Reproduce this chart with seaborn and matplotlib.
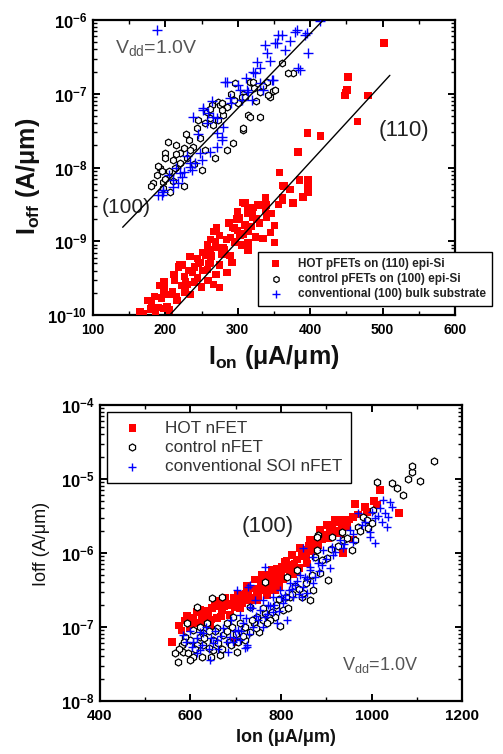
import numpy as np
import pandas as pd
import matplotlib
matplotlib.use("Agg")
import matplotlib.pyplot as plt
from matplotlib.ticker import FuncFormatter, MultipleLocator, LogLocator, NullFormatter
import seaborn as sns

# ---------------- pFET data (Ion in uA/um, log10 of Ioff in A/um) ----------------
hot_p_ion = [502, 452, 449, 448, 451, 480, 465, 396, 414, 383, 358, 397, 397, 397, 385, 364, 338, 362, 362, 376,
             310, 327, 340, 314, 320, 299, 307, 331, 362, 320, 340, 310, 351, 271, 266, 275, 300, 314, 324, 335,
             351, 314, 262, 269, 296, 244, 255, 223, 248, 262, 275, 292, 285, 237, 244, 259, 266, 275, 199, 210,
             227, 195, 216, 181, 202, 206, 165, 186, 197, 197, 220, 234, 262, 293, 313, 321, 314, 282, 289, 303,
             230, 252, 213, 300, 330, 345, 290, 258, 280, 240, 270, 228, 250, 215, 235, 190, 175, 260, 305, 372, 390,
             185, 192, 205, 212, 222, 232, 240, 246, 252, 258, 264, 270, 278, 284, 288, 295, 302, 308, 318, 326,
             338, 346, 356, 218, 226, 198, 180, 170]
hot_p_log_ioff = [-6.31, -6.77, -6.98, -7.02, -6.95, -7.02, -7.38, -7.53, -7.57, -7.79, -8.07, -8.17, -8.25, -8.33,
                  -8.17, -8.25, -8.41, -8.41, -8.24, -8.48, -8.48, -8.51, -8.51, -8.62, -8.67, -8.70, -8.47, -8.51,
                  -8.44, -8.64, -8.67, -8.78, -8.79, -8.82, -8.87, -8.92, -8.85, -8.87, -8.94, -8.96, -9.02, -9.12,
                  -8.98, -9.01, -9.01, -9.23, -9.19, -9.32, -9.29, -9.28, -9.32, -9.29, -9.42, -9.42, -9.50, -9.53,
                  -9.59, -9.63, -9.66, -9.69, -9.69, -9.77, -9.80, -9.85, -9.89, -9.93, -9.96, -9.96, -9.91, -9.66,
                  -9.32, -9.21, -9.12, -8.81, -8.55, -8.54, -9.02, -9.12, -9.19, -8.92, -9.59, -9.40, -9.53, -8.60,
                  -8.75, -8.88, -8.95, -9.05, -9.08, -9.35, -9.45, -9.55, -9.62, -9.75, -9.72, -9.90, -9.80, -9.30,
                  -9.05, -8.30, -8.40,
                  -9.75, -9.60, -9.72, -9.45, -9.60, -9.40, -9.55, -9.30, -9.15, -9.38, -9.20, -9.08, -9.18, -8.98,
                  -8.75, -8.82, -8.68, -8.90, -8.80, -8.70, -8.58, -8.62, -8.50, -9.35, -9.48, -9.55, -9.92, -9.98]

ctrl_p_ion = [361, 376, 369, 296, 317, 340, 331, 349, 344, 307, 273, 275, 285, 300, 280, 314, 331, 262, 266, 244,
              307, 293, 285, 248, 225, 220, 199, 199, 210, 220, 251, 193, 188, 206, 197, 206, 183, 197, 238, 230,
              269, 273, 278, 306, 342, 317, 307, 321, 234, 213, 255, 215, 203, 228, 258, 290, 325, 352, 265, 240,
              225, 195, 190, 205, 215, 232, 245, 255, 262, 278, 295, 310, 322, 335, 200, 210, 180]
ctrl_p_log_ioff = [-6.58, -6.72, -6.72, -6.85, -6.84, -6.84, -6.98, -6.96, -7.04, -7.00, -7.11, -7.15, -7.18, -7.13,
                   -7.29, -7.29, -7.32, -7.33, -7.42, -7.46, -7.49, -7.67, -7.76, -7.60, -7.74, -7.80, -7.80, -7.87,
                   -7.90, -7.94, -8.03, -8.01, -8.10, -8.13, -8.20, -8.33, -8.21, -8.28, -7.72, -7.87, -7.87, -7.36,
                   -7.13, -7.04, -7.02, -7.32, -7.46, -6.84, -7.76, -8.01, -7.76, -7.70, -7.65, -7.55, -7.25, -7.00,
                   -7.10, -6.95, -7.15, -7.95, -8.25, -8.05, -7.98, -8.05, -7.82, -7.62, -7.35, -7.40, -7.20, -7.22,
                   -7.08, -7.05, -6.92, -6.90, -8.15, -8.18, -8.25]

bulk_p_ion = [379, 393, 361, 354, 338, 397, 340, 327, 383, 324, 349, 282, 331, 335, 303, 314, 289, 306, 320, 252,
              238, 259, 271, 280, 278, 271, 262, 251, 241, 234, 223, 217, 210, 197, 195, 225, 237, 321, 285, 252,
              266, 271, 278, 248, 234, 220, 210, 197, 190, 188, 414, 382, 396, 356, 351, 386, 347, 313,
              230, 245, 258, 265, 290, 300, 312, 330, 345, 365, 372, 205, 215]
bulk_p_log_ioff = [-6.16, -6.20, -6.20, -6.31, -6.34, -6.45, -6.45, -6.57, -6.65, -6.72, -6.81, -6.84, -6.85, -6.95,
                   -6.95, -6.98, -7.06, -7.08, -7.08, -7.19, -7.32, -7.26, -7.33, -7.45, -7.59, -7.72, -7.79, -7.90,
                   -7.94, -7.99, -8.13, -8.21, -8.26, -8.33, -8.37, -8.06, -8.03, -6.71, -6.84, -7.22, -7.32, -7.53,
                   -7.63, -7.80, -7.94, -8.07, -8.17, -8.31, -8.37, -6.14, -6.01, -6.14, -6.18, -6.20, -6.31, -6.68,
                   -6.81, -6.95, -7.85, -7.55, -7.40, -7.10, -7.12, -6.88, -6.78, -6.65, -6.55, -6.40, -6.28, -8.10,
                   -8.00]

# trend lines for the two orientations
fit_100_ion = [141, 418]
fit_100_ioff = [1.55e-9, 1.0e-6]
fit_110_ion = [206, 510]
fit_110_ioff = [1.0e-10, 1.78e-7]

p_labels = ["HOT pFETs on (110) epi-Si", "control pFETs on (100) epi-Si", "conventional (100) bulk substrate"]

# ---------------- nFET data ----------------
hot_n_ion = [559, 610, 625, 648, 670, 681, 698, 716, 731, 747, 765, 776, 793, 802, 835, 857, 875, 636, 659, 687,
             714, 747, 769, 787, 820, 835, 857, 694, 1019, 1061, 1012, 986, 964, 959, 937, 924, 946, 908, 893, 880,
             871, 853, 930, 937, 959, 621, 654, 676, 705, 727, 742, 758, 780, 809, 824, 842, 864, 886, 902, 599,
             588, 643, 753, 798, 820, 919, 605, 640, 662, 690, 700, 722, 738, 760, 770, 785, 800, 815, 830, 848,
             868, 882, 898, 913, 580, 625, 668, 710, 750, 795, 840,
             615, 632, 645, 660, 675, 695, 708, 725, 735, 755, 768, 778, 790, 805, 812, 828, 845, 855, 862, 878,
             890, 905, 920, 935, 950, 970, 990, 1005, 575, 592]
hot_n_log_ioff = [-7.20, -6.95, -6.84, -6.74, -6.77, -6.68, -6.73, -6.61, -6.64, -6.53, -6.43, -6.34, -6.27, -6.19,
                  -6.09, -5.96, -5.85, -6.95, -6.88, -6.84, -6.68, -6.64, -6.57, -6.50, -6.26, -6.26, -6.14, -7.20,
                  -5.15, -5.46, -5.35, -5.38, -5.34, -5.51, -5.55, -5.59, -5.65, -5.69, -5.78, -5.85, -5.92, -6.00,
                  -5.73, -6.00, -5.82, -6.77, -6.70, -6.61, -6.57, -6.50, -6.36, -6.30, -6.23, -6.12, -6.03, -5.93,
                  -5.82, -5.69, -5.62, -7.01, -6.91, -6.98, -6.50, -6.36, -6.16, -5.55, -6.88, -6.85, -6.72, -6.70,
                  -6.62, -6.55, -6.48, -6.40, -6.47, -6.38, -6.30, -6.22, -6.15, -6.05, -5.97, -5.90, -5.75, -5.62,
                  -7.05, -6.92, -6.86, -6.75, -6.58, -6.45, -6.20,
                  -6.80, -6.78, -6.90, -6.65, -6.72, -6.60, -6.68, -6.45, -6.60, -6.42, -6.30, -6.40, -6.22, -6.35,
                  -6.10, -6.28, -6.00, -6.05, -5.90, -5.95, -5.82, -5.80, -5.70, -5.65, -5.55, -5.48, -5.45, -5.30,
                  -6.98, -6.85]

ctrl_n_ion = [1012, 1045, 1056, 1070, 1081, 1090, 1090, 1107, 1138, 981, 992, 1003, 970, 964, 935, 913, 882, 902,
              957, 886, 904, 871, 846, 857, 875, 937, 572, 592, 614, 648, 670, 703, 583, 606, 581, 599, 628, 650,
              672, 628, 659, 692, 709, 731, 747, 765, 787, 804, 731, 820, 849, 864, 813, 835, 765, 880, 880, 694,
              681, 606, 588, 621, 650, 665, 636, 720, 751, 776, 798, 575, 595, 615, 640, 660, 685, 700, 720, 740,
              760, 790, 810, 830, 760, 600, 625, 655, 690,
              585, 610, 630, 645, 670, 680, 705, 715, 735, 745, 770, 780, 795, 815, 825, 840, 855, 868, 890, 910,
              925, 945, 975, 990, 1000, 620, 640, 565]
ctrl_n_log_ioff = [-5.04, -5.05, -5.12, -5.22, -5.00, -4.91, -4.82, -5.03, -4.76, -5.51, -5.66, -5.42, -5.65, -5.82,
                   -5.72, -5.78, -5.76, -6.07, -5.96, -6.27, -6.36, -6.50, -6.59, -6.36, -6.05, -5.82, -7.47, -6.95,
                   -6.73, -6.61, -6.59, -7.34, -7.34, -7.41, -7.24, -7.18, -7.24, -7.18, -7.11, -7.08, -7.01, -7.00,
                   -6.95, -7.07, -6.86, -6.81, -6.86, -6.77, -6.73, -6.59, -6.54, -6.64, -6.32, -6.23, -6.39, -5.78,
                   -5.96, -6.86, -6.95, -7.04, -7.14, -7.14, -7.31, -7.38, -6.95, -7.18, -7.07, -6.91, -6.98, -7.30,
                   -7.35, -7.25, -7.28, -7.22, -7.20, -7.10, -7.00, -6.95, -6.90, -6.70, -6.60, -6.45, -6.75, -7.45,
                   -7.40, -7.05, -7.25,
                   -7.20, -7.30, -7.15, -7.40, -7.30, -7.05, -7.20, -7.12, -6.90, -7.02, -6.95, -6.80, -6.62, -6.75,
                   -6.55, -6.48, -6.40, -6.30, -6.10, -5.95, -5.90, -5.80, -5.70, -5.55, -5.60, -7.00, -7.05, -7.35]

soi_n_ion = [643, 603, 683, 720, 703, 727, 765, 849, 871, 628, 672, 709, 731, 760, 782, 798, 820, 842, 864, 659,
             687, 705, 738, 765, 782, 804, 827, 791, 813, 606, 621, 583, 694, 1025, 1041, 1045, 1019, 1030, 1036,
             1008, 1023, 1034, 997, 997, 1008, 979, 970, 952, 959, 930, 913, 937, 893, 915, 882, 908, 864, 853,
             875, 849, 857, 846, 891, 725, 709, 731, 621, 725, 742, 753, 771, 809, 831, 590, 615, 650, 668, 698,
             715, 745, 775, 800, 818, 835, 655, 690, 640, 730, 760,
             600, 625, 635, 660, 680, 700, 712, 722, 735, 750, 768, 785, 795, 808, 825, 840, 858, 870, 885, 900,
             920, 940, 960, 985, 1000, 1015, 645, 615]
soi_n_log_ioff = [-7.45, -7.27, -7.34, -7.28, -6.50, -6.46, -6.19, -5.93, -6.05, -7.08, -7.01, -6.84, -6.73, -6.64,
                  -6.59, -6.50, -6.41, -6.30, -6.23, -7.18, -7.14, -7.04, -7.00, -6.86, -6.80, -6.68, -6.59, -6.95,
                  -6.91, -7.20, -7.31, -7.11, -7.20, -5.28, -5.31, -5.38, -5.39, -5.46, -5.51, -5.53, -5.58, -5.65,
                  -5.72, -5.78, -5.86, -5.62, -5.46, -5.69, -5.85, -5.82, -5.92, -5.93, -5.96, -6.03, -6.14, -6.20,
                  -6.19, -6.32, -6.32, -6.46, -6.54, -6.59, -6.16, -7.24, -7.18, -6.43, -7.07, -7.27, -6.64, -6.77,
                  -6.70, -6.57, -6.43, -7.20, -7.15, -7.22, -7.12, -7.05, -6.95, -6.85, -6.72, -6.60, -6.50, -6.38,
                  -7.05, -6.90, -7.30, -7.10, -7.00,
                  -7.05, -7.25, -7.00, -7.30, -7.20, -7.15, -7.05, -6.88, -6.75, -6.90, -6.82, -6.70, -6.78, -6.62,
                  -6.48, -6.55, -6.35, -6.40, -6.25, -6.08, -5.98, -5.88, -5.75, -5.58, -5.45, -5.50, -7.15, -7.35]

n_labels = ["HOT nFET", "control nFET", "conventional SOI nFET"]


def frame(ion, log_ioff):
    return pd.DataFrame({"Ion": ion, "Ioff": np.power(10.0, np.asarray(log_ioff))})


sns.set_theme(style="ticks")
plt.rcParams.update({
    "font.family": ["Liberation Sans", "DejaVu Sans"],
    "mathtext.fontset": "custom",
    "mathtext.rm": "Liberation Sans",
    "mathtext.it": "Liberation Sans:italic",
    "mathtext.bf": "Liberation Sans:bold",
    "axes.edgecolor": "black",
    "axes.linewidth": 1.6,
    "text.color": "#222222",
})

fig = plt.figure(figsize=(5.03, 7.54), dpi=100)
ax1 = fig.add_axes([0.1849, 0.5822, 0.7197, 0.3912])
ax2 = fig.add_axes([0.1988, 0.0703, 0.7197, 0.3926])


def log_label(v, pos):
    e = int(round(np.log10(v)))
    return r"$\mathbf{10^{%d}}$" % e


def style_axes(ax, xlim, xmajor, xminor, ylim, xfs, yfs):
    ax.set_yscale("log")
    ax.set_xlim(*xlim)
    ax.set_ylim(*ylim)
    ax.xaxis.set_major_locator(MultipleLocator(xmajor))
    ax.xaxis.set_minor_locator(MultipleLocator(xminor))
    ax.yaxis.set_major_locator(LogLocator(base=10, numticks=10))
    ax.yaxis.set_minor_locator(LogLocator(base=10, subs=np.arange(2, 10), numticks=50))
    ax.yaxis.set_major_formatter(FuncFormatter(log_label))
    ax.yaxis.set_minor_formatter(NullFormatter())
    ax.tick_params(which="both", direction="in", top=True, right=True, colors="black")
    ax.tick_params(which="major", length=5, width=1.4, pad=4)
    ax.tick_params(which="minor", length=3, width=1.0)
    ax.tick_params(axis="x", labelsize=xfs, pad=6)
    ax.tick_params(axis="y", labelsize=yfs)
    for lab in ax.get_xticklabels():
        lab.set_fontweight("bold")
    for sp in ax.spines.values():
        sp.set_linewidth(1.6)
        sp.set_color("black")


# ---------------- upper panel: pFETs ----------------
sns.scatterplot(data=frame(hot_p_ion, hot_p_log_ioff), x="Ion", y="Ioff", ax=ax1, marker="s", s=28,
                color="#ff0000", edgecolor="none", linewidth=0, label=p_labels[0], zorder=3)
sns.scatterplot(data=frame(ctrl_p_ion, ctrl_p_log_ioff), x="Ion", y="Ioff", ax=ax1, marker="h", s=24,
                color="white", edgecolor="black", linewidth=0.9, label=p_labels[1], zorder=4)
sns.scatterplot(data=frame(bulk_p_ion, bulk_p_log_ioff), x="Ion", y="Ioff", ax=ax1, marker="+", s=48,
                color="#0000ff", linewidth=1.0, label=p_labels[2], zorder=5)
sns.lineplot(x=fit_100_ion, y=fit_100_ioff, ax=ax1, color="black", linewidth=1.0, legend=False,
             estimator=None, zorder=6)
sns.lineplot(x=fit_110_ion, y=fit_110_ioff, ax=ax1, color="black", linewidth=1.0, legend=False,
             estimator=None, zorder=6)

style_axes(ax1, (100, 600), 100, 50, (1e-10, 1e-6), 10, 12)
ax1.set_xlabel(r"I$_{\mathbf{on}}$ (μA/μm)", fontsize=18, fontweight="bold", color="#111111")
ax1.set_ylabel(r"I$_{\mathbf{off}}$ (A/μm)", fontsize=18, fontweight="bold", color="#111111")
ax1.xaxis.set_label_coords(0.5, -0.095)
ax1.yaxis.set_label_coords(-0.141, 0.47)

ax1.text(0.061, 0.905, r"V$_{\mathrm{dd}}$=1.0V", transform=ax1.transAxes, fontsize=14,
         color="#555555", va="center", ha="left")
ax1.text(0.091, 0.363, "(100)", transform=ax1.transAxes, fontsize=15, color="#222222",
         va="center", ha="center")
ax1.text(0.859, 0.627, "(110)", transform=ax1.transAxes, fontsize=16, color="#222222",
         va="center", ha="center")

h1, l1 = ax1.get_legend_handles_labels()
leg1 = ax1.legend(h1, l1, loc="upper left", bbox_to_anchor=(0.456, 0.214), frameon=True, fancybox=False,
                  edgecolor="black", framealpha=1, prop={"weight": "bold", "size": 8.5},
                  borderpad=0.5, labelspacing=0.25, handletextpad=0.9, borderaxespad=0, handlelength=2.0,
                  markerscale=0.9)
leg1.get_frame().set_linewidth(1.0)
for t in leg1.get_texts():
    t.set_color("#222222")

# ---------------- lower panel: nFETs ----------------
sns.scatterplot(data=frame(hot_n_ion, hot_n_log_ioff), x="Ion", y="Ioff", ax=ax2, marker="s", s=30,
                color="#ff0000", edgecolor="none", linewidth=0, label=n_labels[0], zorder=3)
sns.scatterplot(data=frame(ctrl_n_ion, ctrl_n_log_ioff), x="Ion", y="Ioff", ax=ax2, marker="h", s=26,
                color="white", edgecolor="black", linewidth=0.9, label=n_labels[1], zorder=4)
sns.scatterplot(data=frame(soi_n_ion, soi_n_log_ioff), x="Ion", y="Ioff", ax=ax2, marker="+", s=40,
                color="#0000ff", linewidth=1.0, label=n_labels[2], zorder=5)

style_axes(ax2, (400, 1200), 200, 100, (1e-8, 1e-4), 11, 12)
ax2.set_xlabel("Ion (μA/μm)", fontsize=13, fontweight="bold", color="#111111")
ax2.set_ylabel("Ioff (A/μm)", fontsize=13, color="#111111")
ax2.xaxis.set_label_coords(0.514, -0.095)
ax2.yaxis.set_label_coords(-0.138, 0.53)

ax2.text(0.464, 0.588, "(100)", transform=ax2.transAxes, fontsize=16, color="#222222",
         va="center", ha="center")
ax2.text(0.668, 0.122, r"V$_{\mathrm{dd}}$=1.0V", transform=ax2.transAxes, fontsize=13,
         color="#555555", va="center", ha="left")

h2, l2 = ax2.get_legend_handles_labels()
leg2 = ax2.legend(h2, l2, loc="upper left", bbox_to_anchor=(0.019, 0.976), frameon=True, fancybox=False,
                  edgecolor="black", framealpha=1, prop={"size": 12.3},
                  borderpad=0.5, labelspacing=0.25, handletextpad=0.9, borderaxespad=0, handlelength=2.0,
                  markerscale=1.0)
leg2.get_frame().set_linewidth(1.0)
for t in leg2.get_texts():
    t.set_color("#333333")

fig.savefig("out.png", dpi=100)
